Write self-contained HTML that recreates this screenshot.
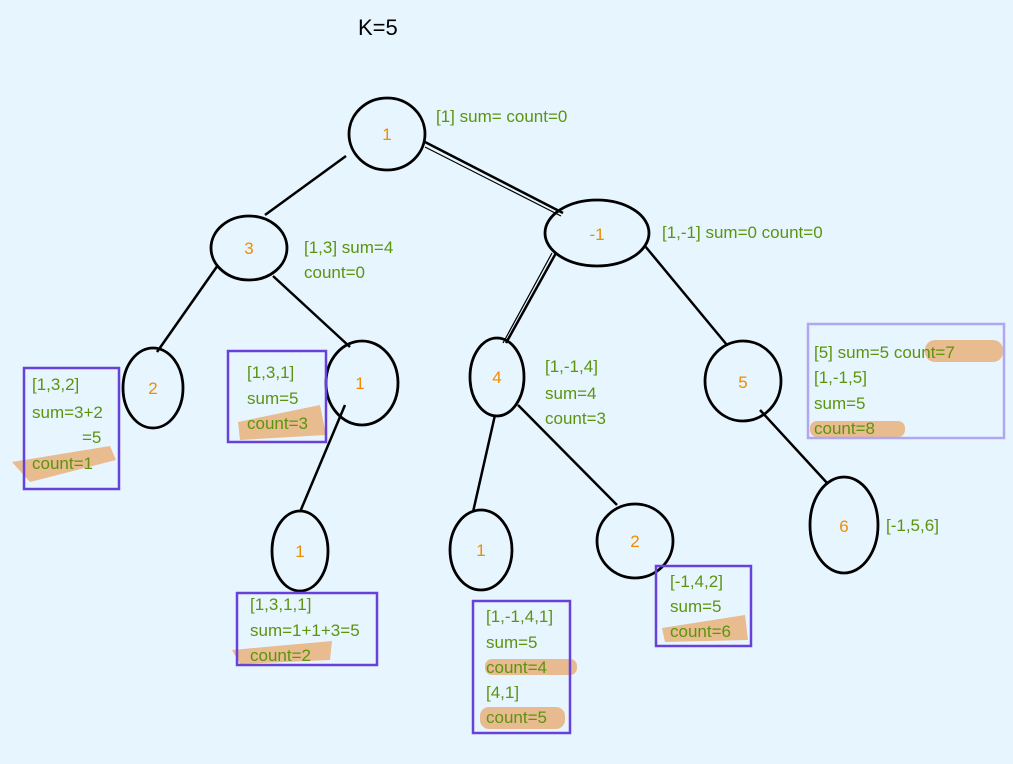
<!DOCTYPE html>
<html><head><meta charset="utf-8"><style>
html,body{margin:0;padding:0;background:#e7f5ff;}
svg{display:block}
text{font-family:"Liberation Sans",sans-serif;}
.g{fill:#5c940d;font-size:17px}
.o{fill:#f08c00;font-size:17px}
</style></head><body>
<svg width="1013" height="764" viewBox="0 0 1013 764" xmlns="http://www.w3.org/2000/svg">
<rect width="1013" height="764" fill="#e7f5ff"/>
<text x="358" y="35" font-size="22" fill="#000">K=5</text>
<g fill="#e8a86a" opacity="0.75">
<path d="M12,462 L110,446 L116,460 L30,482 Z"/>
<path d="M238,422 L320,405 L326,435 L240,440 Z"/>
<path d="M232,650 L332,641 L330,660 L240,664 Z"/>
<rect x="485" y="659" width="92" height="16" rx="7"/>
<rect x="480" y="707" width="85" height="22" rx="9"/>
<path d="M662,628 L745,615 L748,640 L665,642 Z"/>
<rect x="925" y="340" width="78" height="22" rx="10"/>
<rect x="810" y="421" width="95" height="16" rx="7"/>
</g>
<g stroke="#000" stroke-width="2.5" fill="none">
<line x1="346" y1="156" x2="265" y2="215"/>
<line x1="425" y1="142" x2="563" y2="213"/>
<line x1="425" y1="147" x2="561" y2="216" stroke-width="1.2"/>
<line x1="218" y1="265" x2="157" y2="352"/>
<line x1="273" y1="276" x2="350" y2="347"/>
<line x1="345" y1="405" x2="300" y2="512"/>
<line x1="556" y1="253" x2="506" y2="343"/>
<line x1="552" y1="253" x2="503" y2="343" stroke-width="1.2"/>
<line x1="645" y1="246" x2="727" y2="345"/>
<line x1="495" y1="415" x2="473" y2="512"/>
<line x1="518" y1="405" x2="617" y2="505"/>
<line x1="760" y1="410" x2="828" y2="484"/>
</g>
<g stroke="#000" stroke-width="2.8" fill="none">
<ellipse cx="387" cy="134" rx="38" ry="36"/>
<ellipse cx="249" cy="248" rx="38" ry="32"/>
<ellipse cx="597" cy="233" rx="52" ry="33"/>
<ellipse cx="153" cy="388" rx="30" ry="40"/>
<ellipse cx="362" cy="383" rx="36" ry="42"/>
<ellipse cx="497" cy="377" rx="27" ry="39"/>
<ellipse cx="743" cy="381" rx="38" ry="40"/>
<ellipse cx="300" cy="551" rx="28" ry="40"/>
<ellipse cx="481" cy="550" rx="31" ry="40"/>
<ellipse cx="635" cy="541" rx="38" ry="37"/>
<ellipse cx="844" cy="525" rx="34" ry="48"/>
</g>
<g class="o" text-anchor="middle">
<text class="o" x="387" y="140">1</text>
<text class="o" x="249" y="254">3</text>
<text class="o" x="597" y="240">-1</text>
<text class="o" x="153" y="394">2</text>
<text class="o" x="360" y="389">1</text>
<text class="o" x="497" y="383">4</text>
<text class="o" x="743" y="388">5</text>
<text class="o" x="300" y="557">1</text>
<text class="o" x="481" y="556">1</text>
<text class="o" x="635" y="547">2</text>
<text class="o" x="844" y="532">6</text>
</g>
<g fill="none" stroke-width="2.5">
<rect x="24" y="368" width="95" height="121" stroke="#6741d9"/>
<rect x="228" y="351" width="98" height="91" stroke="#6741d9"/>
<rect x="237" y="593" width="140" height="72" stroke="#6741d9"/>
<rect x="473" y="601" width="97" height="132" stroke="#6741d9"/>
<rect x="656" y="566" width="95" height="80" stroke="#6741d9"/>
<rect x="808" y="324" width="196" height="114" stroke="#b1a7f0"/>
</g>
<text class="g" x="436" y="122">[1] sum= count=0</text>
<text class="g" x="662" y="238">[1,-1] sum=0 count=0</text>
<text class="g" x="304" y="253">[1,3] sum=4</text>
<text class="g" x="304" y="278">count=0</text>
<text class="g" x="32" y="390">[1,3,2]</text>
<text class="g" x="32" y="418">sum=3+2</text>
<text class="g" x="82" y="443">=5</text>
<text class="g" x="32" y="469">count=1</text>
<text class="g" x="247" y="378">[1,3,1]</text>
<text class="g" x="247" y="404">sum=5</text>
<text class="g" x="247" y="429">count=3</text>
<text class="g" x="250" y="610">[1,3,1,1]</text>
<text class="g" x="250" y="636">sum=1+1+3=5</text>
<text class="g" x="250" y="661">count=2</text>
<text class="g" x="545" y="372">[1,-1,4]</text>
<text class="g" x="545" y="399">sum=4</text>
<text class="g" x="545" y="424">count=3</text>
<text class="g" x="486" y="622">[1,-1,4,1]</text>
<text class="g" x="486" y="648">sum=5</text>
<text class="g" x="486" y="673">count=4</text>
<text class="g" x="486" y="698">[4,1]</text>
<text class="g" x="486" y="723">count=5</text>
<text class="g" x="670" y="587">[-1,4,2]</text>
<text class="g" x="670" y="612">sum=5</text>
<text class="g" x="670" y="637">count=6</text>
<text class="g" x="814" y="358">[5] sum=5 count=7</text>
<text class="g" x="814" y="383">[1,-1,5]</text>
<text class="g" x="814" y="409">sum=5</text>
<text class="g" x="814" y="434">count=8</text>
<text class="g" x="886" y="531">[-1,5,6]</text>
</svg>
</body></html>
